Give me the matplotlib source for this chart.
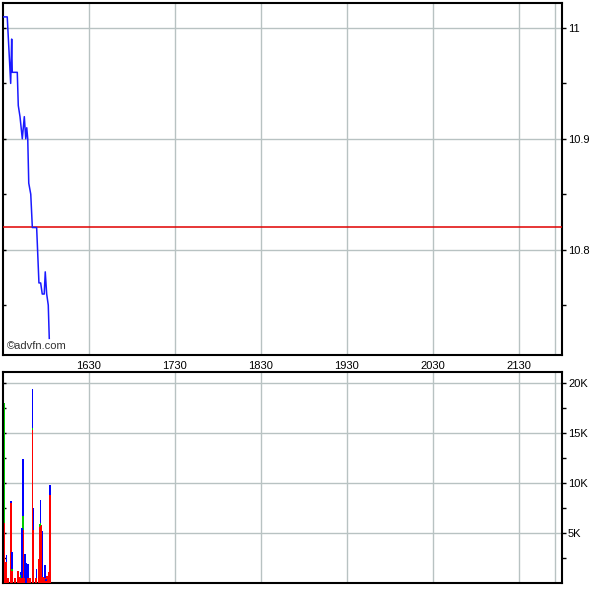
import matplotlib
matplotlib.use("Agg")
import matplotlib.pyplot as plt
import matplotlib.lines as mlines
import numpy as np

plt.rcParams['font.family'] = ['Liberation Sans', 'DejaVu Sans']

# ---- data (time in minutes of day) ----
price_t = [930.6, 933.3, 935.7, 936.4, 936.8, 940.3, 941.0, 942.2, 943.8, 945.2,
           946.2, 946.9, 947.6, 948.3, 949.7, 950.8, 953.8, 955.4, 956.6, 957.7,
           959.1, 959.8, 960.8, 961.9, 962.6]
price = [11.01, 11.01, 10.95, 10.99, 10.96, 10.96, 10.93, 10.92, 10.90, 10.92,
         10.90, 10.91, 10.90, 10.86, 10.85, 10.82, 10.82, 10.77, 10.77, 10.76,
         10.76, 10.78, 10.76, 10.75, 10.72]
prev_close = 10.8205

vol_t = [931.4, 932.0, 932.6, 933.8, 934.5, 935.9, 936.6, 938.7, 940.8, 941.5,
         942.9, 943.6, 944.3, 945.7, 946.4, 947.8, 948.5, 949.2, 950.6, 951.3,
         952.7, 953.4, 954.8, 955.5, 956.2, 956.9, 957.6, 958.3, 958.9, 959.6,
         960.3, 961.0, 962.4, 963.1]
vol_red = [6000, 2170, 2170, 500, 500, 8000, 1230, 570, 1230, 670,
           500, 500, 5330, 500, 0, 500, 500, 500, 15330, 5330,
           500, 500, 2430, 5670, 5730, 5830, 600, 600, 500, 500,
           200, 730, 1170, 8830]
vol_green = [12000, 0, 0, 0, 0, 0, 170, 0, 0, 0,
             300, 0, 1430, 0, 0, 0, 0, 0, 240, 0,
             0, 0, 0, 270, 340, 0, 0, 0, 0, 0,
             0, 0, 0, 0]
vol_blue = [0, 0, 660, 0, 0, 230, 1770, 0, 0, 0,
            370, 5070, 5670, 2430, 2070, 1430, 0, 0, 3860, 2240,
            0, 930, 0, 0, 2260, 0, 4630, 0, 0, 1370,
            230, 0, 0, 1000]

xtick_pos = [990, 1050, 1110, 1170, 1230, 1290]
xtick_lab = ['1630', '1730', '1830', '1930', '2030', '2130']
price_ticks = [10.8, 10.9, 11.0]
price_tick_lab = ['10.8', '10.9', '11']
vol_ticks = [5000, 10000, 15000, 20000]
vol_tick_lab = ['5K', '10K', '15K', '20K']

XMIN, XMAX = 930, 1320
grid_c = '#b8c2c2'

fig = plt.figure(figsize=(6, 6), dpi=100)
W = 600.0
left = 2.5 / W
width = (562 - 2.5) / W
ax1 = fig.add_axes([left, (600 - 355) / W, width, (355 - 2.7) / W])
ax2 = fig.add_axes([left, (600 - 583.3) / W, width, (583.3 - 371.7) / W])

for ax in (ax1, ax2):
    ax.set_xlim(XMIN, XMAX)
    for s in ax.spines.values():
        s.set_color('black')
        s.set_linewidth(1.5)
        s.set_zorder(1)
    ax.set_xticks(xtick_pos)
    ax.grid(True, axis='both', color=grid_c, lw=1.0)
    ax.axvline(1315, color=grid_c, lw=1.0, zorder=0.5)
    ax.set_axisbelow(True)
    ax.yaxis.tick_right()
    ax.tick_params(axis='x', length=0)

# price panel
ax1.set_ylim(10.705, 11.0228)
ax1.plot(price_t, price, color='#1a1aff', lw=1.1, zorder=3)
ax1.axhline(prev_close, color='#e00000', lw=1.1, zorder=2)
ax1.set_yticks(price_ticks)
ax1.set_yticklabels(price_tick_lab)
ax1.set_yticks([10.75, 10.85, 10.95], minor=True)
ax1.grid(False, which='minor')
ax1.set_xticklabels(xtick_lab, fontsize=8)
ax1.tick_params(axis='x', pad=4)
ax1.text(0.008, 0.012, '\u00a9advfn.com', transform=ax1.transAxes,
         fontsize=8, color='#333333', ha='left', va='bottom')

# volume panel
ax2.set_ylim(0, 21160)
red = np.array(vol_red)
green = np.array(vol_green)
blue = np.array(vol_blue)
bw = 0.75
ax2.bar(vol_t, red, width=bw, color='#ff0000', lw=0, zorder=3)
ax2.bar(vol_t, green, width=bw, bottom=red, color='#00cc00', lw=0, zorder=3)
ax2.bar(vol_t, blue, width=bw, bottom=red + green, color='#0000ff', lw=0, zorder=3)
ax2.set_yticks(vol_ticks)
ax2.set_yticklabels(vol_tick_lab)
ax2.set_yticks([2500, 7500, 12500, 17500], minor=True)
ax2.set_xticklabels([])

for ax in (ax1, ax2):
    ax.tick_params(axis='y', which='both', direction='out', length=2.8, width=1,
                   labelsize=8, pad=1.5, left=True, right=True)
    for t in ax.yaxis.get_major_ticks() + ax.yaxis.get_minor_ticks():
        t.tick1line.set_marker(mlines.TICKRIGHT)
        t.tick1line.set_markersize(2)

fig.savefig('out.png', dpi=100)
